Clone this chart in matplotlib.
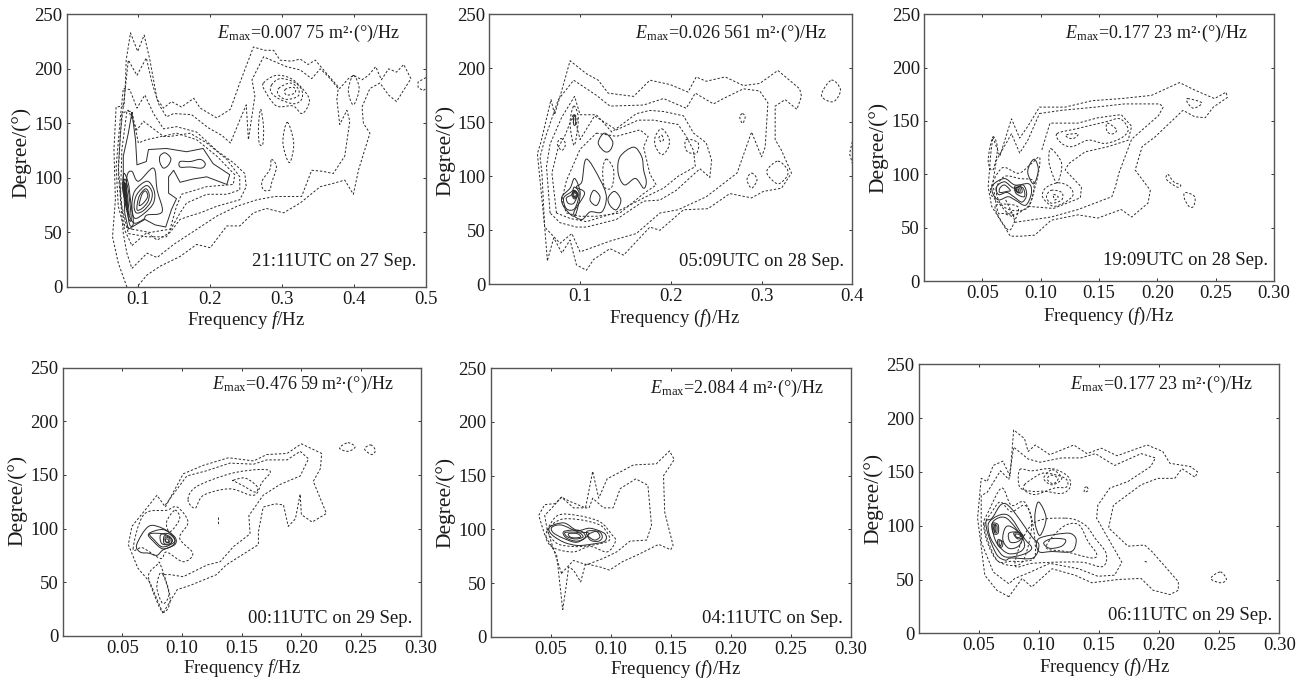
import numpy as np
import matplotlib
matplotlib.use('Agg')
import matplotlib.pyplot as plt
from matplotlib.path import Path
from matplotlib.patches import PathPatch

plt.rcParams['font.family'] = ['Liberation Serif', 'DejaVu Serif']
plt.rcParams['mathtext.fontset'] = 'custom'
plt.rcParams['mathtext.rm'] = 'Liberation Serif'
plt.rcParams['mathtext.it'] = 'Liberation Serif:italic'

W, H = 1305, 681
FS = 13.5

# -----------------------------------------------------------------------------
# Contours, (frequency Hz, degree) pairs
# OPEN lines stop at an edge, DASHED and SOLID lines are closed loops
# -----------------------------------------------------------------------------

P1_OPEN = [
    [(.084,0),(.072,22),(.064,46),(.068,80),(.066,126),(.069,165),(.080,166),(.082,187),(.083,208),(.089,233),
     (.099,216),(.108,231),(.116,208),(.126,172),(.135,164),(.146,170),(.160,165),(.177,173),(.186,164),(.209,155),
     (.228,163),(.241,187),(.260,220),(.276,217),(.288,217),(.297,208),(.313,207),(.325,209),(.336,204),(.346,208),
     (.364,194),(.380,182),(.392,191),(.399,194),(.411,190),(.420,194),(.430,202),(.438,190),(.448,200),(.459,197),
     (.469,204),(.479,191),(.459,170),(.448,176),(.436,187),(.422,182),(.411,165),(.413,150),(.422,141),(.406,107),
     (.399,85),(.387,98),(.371,95),(.353,92),(.325,77),(.302,68),(.278,72),(.260,68),(.241,56),(.223,56),
     (.200,36),(.181,39),(.158,28),(.130,19),(.112,11),(.098,0)],
    [(.500,192),(.489,188),(.489,183),(.496,180),(.500,182)],
]
P1_DASHED = [
    [(.091,17),(.112,31),(.126,27),(.149,39),(.179,52),(.209,65),(.237,74),(.265,80),(.290,83),(.327,83),
     (.341,107),(.357,106),(.371,104),(.387,120),(.394,152),(.390,162),(.380,149),(.376,172),(.378,182),(.364,193),
     (.353,200),(.341,191),(.325,199),(.306,202),(.274,211),(.258,190),(.262,175),(.253,135),(.250,167),(.241,153),
     (.228,132),(.216,139),(.197,146),(.174,158),(.149,159),(.139,156),(.128,168),(.119,187),(.111,210),(.098,194),
     (.086,208),(.075,141),(.072,104),(.076,74),(.079,49),(.084,31)],
    [(.091,38),(.112,50),(.126,43),(.144,50),(.158,62),(.171,65),(.186,68),(.209,74),(.241,80),(.250,92),
     (.248,104),(.232,114),(.209,125),(.181,142),(.153,147),(.135,145),(.121,159),(.109,176),(.098,164),(.088,181),
     (.079,182),(.075,156),(.069,110),(.072,74),(.081,52)],
    [(.086,49),(.112,46),(.139,46),(.158,68),(.167,77),(.195,85),(.223,85),(.241,89),(.241,101),(.223,117),
     (.195,132),(.172,141),(.144,138),(.135,138),(.107,152),(.098,144),(.086,162),(.077,159),(.072,110),(.077,74)],
    [(.091,53),(.116,50),(.144,53),(.153,74),(.160,85),(.195,92),(.232,94),(.234,103),(.209,120),(.181,135),
     (.153,141),(.111,135),(.100,132),(.091,161),(.084,161),(.077,126),(.075,80),(.081,56)],
    [(.270,163),(.274,147),(.273,131),(.268,132),(.267,147)],
    [(.307,151),(.316,132),(.310,114),(.301,132)],
    [(.399,194),(.407,182),(.399,167),(.392,180)],
    [(.285,117),(.292,110),(.285,95),(.283,89),(.274,89),(.272,97),(.283,108)],
    [(.274,187),(.292,194),(.315,190),(.336,175),(.336,166),(.327,159),(.315,166),(.292,166),(.276,180)],
    [(.285,185),(.297,191),(.316,188),(.327,181),(.327,172),(.316,168),(.297,172),(.285,178)],
    [(.295,182),(.311,187),(.322,182),(.322,175),(.306,172),(.295,176)],
    [(.304,181),(.316,183),(.318,178),(.306,176)],
]
P1_SOLID = [
    [(.091,160),(.096,135),(.098,112),(.111,115),(.114,126),(.139,127),(.167,124),(.190,127),(.204,113),(.227,103),
     (.223,94),(.195,101),(.176,99),(.158,96),(.149,107),(.142,101),(.142,86),(.153,81),(.146,71),(.138,55),
     (.123,57),(.109,62),(.086,53),(.081,68),(.079,104),(.079,120),(.086,141)],
    [(.130,120),(.137,123),(.145,118),(.142,112),(.135,109),(.130,114)],
    [(.158,115),(.172,115),(.186,117),(.193,113),(.188,109),(.172,110),(.158,110)],
    [(.084,101),(.091,106),(.100,97),(.121,109),(.126,89),(.133,69),(.112,66),(.107,62),(.093,59),(.084,74)],
    [(.095,88),(.112,97),(.122,88),(.121,77),(.109,68),(.095,63),(.091,74)],
    [(.098,85),(.111,93),(.119,87),(.117,78),(.107,70),(.097,68),(.094,75)],
    [(.101,83),(.110,90),(.115,85),(.113,78),(.105,72),(.098,71)],
    [(.105,85),(.110,88),(.113,83),(.107,77),(.101,75)],
    [(.080,104),(.086,95),(.089,80),(.093,59),(.088,57),(.083,75),(.078,90)],
    [(.081,99),(.085,92),(.088,78),(.090,62),(.087,62),(.082,76),(.079,90)],
    [(.082,95),(.084,88),(.086,76),(.087,66),(.085,70),(.081,80),(.080,90)],
    [(.082,92),(.083,85),(.085,75),(.084,72),(.082,80),(.081,88)],
    [(.081,96),(.083,88),(.084,78),(.083,76),(.081,84),(.080,92)],
    [(.081,94),(.082,88),(.083,80),(.082,80),(.081,86)],
]

P2_OPEN = [
    [(.400,132),(.397,121),(.400,112)],
]
P2_DASHED = [
    [(.064,22),(.061,53),(.053,121),(.057,132),(.068,171),(.072,157),(.080,180),(.089,207),(.107,195),(.120,189),
     (.131,177),(.159,174),(.177,189),(.199,185),(.219,178),(.228,192),(.239,188),(.260,192),(.280,184),(.298,186),
     (.318,198),(.342,181),(.344,174),(.339,162),(.326,171),(.315,165),(.315,134),(.322,124),(.333,103),(.322,89),
     (.302,86),(.289,80),(.265,84),(.241,70),(.214,69),(.188,50),(.177,53),(.148,27),(.133,33),(.115,23),
     (.107,13),(.096,18),(.089,41),(.080,29),(.071,43)],
    [(.093,189),(.118,175),(.133,165),(.170,166),(.192,172),(.217,163),(.227,177),(.247,167),(.258,172),(.280,181),
     (.298,179),(.307,168),(.304,127),(.300,118),(.289,141),(.273,103),(.239,81),(.208,69),(.188,66),(.162,47),
     (.133,40),(.100,30),(.091,47),(.078,38),(.061,53),(.058,103),(.056,118),(.061,134),(.076,171)],
    [(.067,66),(.063,109),(.067,130),(.080,155),(.094,174),(.100,157),(.118,157),(.135,141),(.162,158),(.177,161),
     (.192,160),(.214,156),(.225,140),(.239,131),(.245,115),(.243,99),(.232,107),(.206,87),(.188,78),(.170,77),
     (.140,60),(.107,53),(.096,53),(.078,57)],
    [(.074,66),(.069,103),(.076,127),(.083,137),(.093,158),(.100,134),(.116,156),(.140,143),(.164,152),(.181,152),
     (.208,148),(.217,137),(.225,124),(.227,109),(.208,100),(.192,89),(.170,80),(.138,66),(.107,58),(.089,61)],
    [(.118,140),(.140,137),(.166,143),(.175,137),(.170,127),(.177,102),(.184,92),(.170,84),(.144,66),(.118,63),
     (.100,63),(.085,66),(.080,78),(.085,96),(.100,125)],
    [(.190,144),(.198,135),(.197,126),(.190,120),(.183,128),(.183,137)],
    [(.190,138),(.192,134),(.189,132),(.187,136)],
    [(.279,158),(.282,155),(.279,149),(.276,155)],
    [(.289,103),(.295,97),(.289,89),(.284,97)],
    [(.318,114),(.328,107),(.328,100),(.318,93),(.307,101),(.307,107)],
    [(.377,189),(.387,180),(.379,169),(.366,175)],
    [(.217,134),(.230,131),(.228,121),(.217,124)],
    [(.093,165),(.098,155),(.096,137),(.093,129),(.089,149)],
    [(.094,157),(.097,152),(.094,148),(.092,152)],
    [(.079,135),(.084,130),(.080,124),(.075,130)],
    [(.129,116),(.137,106),(.135,90),(.127,90),(.125,106)],
]
P2_SOLID = [
    [(.093,155),(.095,155),(.095,148),(.093,148)],
    [(.127,140),(.136,132),(.133,124),(.127,123),(.120,131)],
    [(.159,127),(.168,118),(.170,106),(.173,95),(.170,89),(.161,98),(.149,92),(.142,103),(.144,118)],
    [(.107,116),(.122,97),(.129,81),(.124,67),(.111,67),(.102,60),(.093,66),(.105,84),(.096,90),(.102,95)],
    [(.115,87),(.122,81),(.118,73),(.111,78)],
    [(.138,86),(.145,78),(.140,69),(.133,73),(.131,80)],
    [(.094,98),(.100,86),(.098,73),(.093,63),(.082,72),(.080,81),(.089,89)],
    [(.094,90),(.099,84),(.094,70),(.085,70),(.082,80),(.091,86)],
    [(.093,87),(.097,83),(.093,75),(.087,75),(.085,80),(.091,83)],
    [(.094,87),(.098,83),(.094,79),(.091,83)],
    [(.094,86),(.097,83),(.094,80),(.092,83)],
    [(.094,85),(.096,83),(.094,81),(.093,83)],
]

P3_OPEN = [
    [(.101,123),(.108,148),(.132,148),(.149,153),(.169,156),(.178,145),(.175,132),(.158,126),(.138,121),(.124,110),
     (.121,104),(.135,88),(.134,78),(.111,68),(.089,70)],
    [(.070,76),(.074,67),(.077,60),(.069,63)],
]
P3_DASHED = [
    [(.059,135),(.065,117),(.075,152),(.082,134),(.089,145),(.099,163),(.121,163),(.144,169),(.169,171),(.195,174),
     (.219,186),(.232,179),(.249,171),(.259,177),(.260,172),(.248,163),(.241,153),(.232,154),(.222,160),(.198,135),
     (.187,126),(.181,104),(.194,85),(.192,73),(.178,60),(.169,67),(.149,59),(.132,62),(.109,57),(.095,43),
     (.083,42),(.074,42),(.058,70),(.055,88),(.057,117)],
    [(.099,157),(.118,160),(.147,163),(.172,166),(.202,166),(.205,163),(.201,155),(.178,133),(.167,101),(.164,88),
     (.161,79),(.132,67),(.109,60),(.078,55),(.076,64),(.064,63),(.062,70),(.059,92),(.062,113),(.075,138),
     (.082,120),(.089,132)],
    [(.114,138),(.132,143),(.155,149),(.168,152),(.175,142),(.169,134),(.155,129),(.141,132),(.127,126),(.118,129)],
    [(.122,137),(.132,138),(.129,134),(.124,134)],
    [(.157,148),(.165,142),(.162,138),(.157,140)],
    [(.226,171),(.238,167),(.231,162),(.226,167)],
    [(.059,135),(.063,124),(.059,104),(.055,113)],
    [(.109,124),(.118,110),(.114,92),(.108,107),(.107,117)],
    [(.115,92),(.125,88),(.127,79),(.112,70),(.102,78),(.104,87)],
    [(.109,85),(.118,83),(.118,76),(.109,73),(.105,79)],
    [(.111,81),(.115,79),(.112,76)],
    [(.209,100),(.214,93),(.220,90),(.217,88),(.208,95)],
    [(.224,83),(.232,79),(.231,70),(.227,70),(.223,78)],
    [(.057,85),(.067,106),(.081,101),(.092,110),(.099,116),(.098,101),(.092,76),(.087,68),(.075,62),(.064,73)],
    [(.062,86),(.069,98),(.082,96),(.094,93),(.090,70),(.077,66),(.066,72)],
    [(.061,70),(.072,48),(.078,57),(.080,70)],
]
P3_SOLID = [
    [(.095,114),(.098,104),(.094,91),(.089,101),(.091,110)],
    [(.059,90),(.069,96),(.078,90),(.090,91),(.092,82),(.087,71),(.078,76),(.072,79),(.064,76),(.059,82)],
    [(.062,88),(.069,93),(.077,87),(.085,90),(.088,81),(.084,74),(.077,79),(.071,83),(.064,81)],
    [(.065,87),(.069,90),(.074,85),(.071,84),(.065,83)],
    [(.078,89),(.085,87),(.086,79),(.079,82)],
    [(.078,87),(.082,87),(.082,83),(.079,84)],
    [(.079,86),(.081,86),(.081,84),(.079,85)],
    [(.079,87),(.083,88),(.084,83),(.080,83)],
]

P4_OPEN = [
    [(.130,111),(.130,103)],
    [(.086,122),(.104,149),(.121,154),(.140,161),(.160,160),(.171,164),(.188,164),(.199,172),(.206,165),(.199,149),
     (.182,141),(.168,131),(.156,112),(.157,95),(.143,83),(.132,69),(.121,66),(.101,55),(.090,57),(.084,57)],
]
P4_DASHED = [
    [(.084,21),(.073,50),(.063,63),(.055,85),(.058,102),(.066,113),(.079,131),(.086,120),(.101,151),(.118,159),
     (.139,166),(.160,163),(.171,169),(.188,170),(.200,179),(.217,170),(.216,156),(.210,144),(.221,114),(.209,106),
     (.200,113),(.199,132),(.195,109),(.189,102),(.185,122),(.178,123),(.168,120),(.164,97),(.164,85),(.137,66),
     (.129,57),(.107,47),(.096,43)],
    [(.105,127),(.111,119),(.118,131),(.140,137),(.160,131),(.167,143),(.174,153),(.164,155),(.140,151),(.112,139)],
    [(.143,145),(.153,147),(.163,139),(.161,134),(.151,140),(.144,144)],
    [(.239,180),(.245,176),(.239,172),(.232,175)],
    [(.258,178),(.262,173),(.259,169),(.253,174)],
    [(.094,117),(.098,109),(.090,97),(.087,106)],
    [(.059,81),(.068,113),(.087,117),(.096,120),(.105,106),(.098,91),(.109,77),(.101,69),(.087,78),(.082,72),(.067,82)],
    [(.082,66),(.090,35),(.084,22),(.075,43),(.072,57),(.079,66)],
    [(.084,57),(.089,39),(.084,30),(.079,44),(.081,57)],
]
P4_SOLID = [
    [(.062,85),(.072,102),(.084,100),(.094,92),(.094,85),(.084,80),(.079,75),(.072,77),(.065,78)],
    [(.072,95),(.084,99),(.093,92),(.093,85),(.084,81),(.076,88)],
    [(.073,95),(.084,95),(.091,91),(.090,85),(.083,83),(.077,89)],
    [(.082,94),(.089,95),(.094,89),(.090,85),(.083,86)],
    [(.085,93),(.089,92),(.092,89),(.090,86),(.085,86)],
    [(.086,92),(.089,91),(.090,89),(.089,87),(.086,88)],
    [(.086,90),(.088,90),(.089,88),(.087,87)],
]

P5_DASHED = [
    [(.060,25),(.063,48),(.065,65),(.069,62),(.075,51),(.079,68),(.091,65),(.099,62),(.110,70),(.122,76),
     (.140,86),(.150,81),(.152,85),(.145,116),(.144,150),(.153,165),(.149,173),(.138,161),(.119,160),(.097,147),
     (.090,129),(.085,154),(.079,120),(.066,126),(.059,130),(.054,124),(.045,123),(.040,113),(.045,95),(.055,76)],
    [(.059,59),(.069,71),(.080,67),(.094,73),(.105,79),(.116,89),(.130,90),(.134,104),(.131,141),(.121,147),
     (.108,138),(.102,120),(.094,120),(.085,129),(.082,120),(.069,120),(.059,130),(.051,120),(.045,113),(.047,100),
     (.054,76)],
    [(.047,99),(.056,113),(.072,113),(.091,107),(.101,95),(.104,89),(.097,79),(.083,84),(.069,79),(.054,82),(.047,89)],
    [(.048,99),(.058,109),(.074,109),(.091,104),(.098,95),(.098,89),(.083,85),(.069,84),(.055,87)],
]
P5_SOLID = [
    [(.049,102),(.061,106),(.072,99),(.083,101),(.095,96),(.095,89),(.083,86),(.072,85),(.061,88),(.051,95)],
    [(.051,102),(.059,104),(.072,98),(.082,96),(.072,88),(.060,92),(.052,97)],
    [(.080,98),(.090,98),(.093,93),(.090,89),(.083,90)],
    [(.081,95),(.088,98),(.091,93),(.087,90),(.083,92)],
    [(.061,98),(.074,99),(.079,93),(.072,89),(.063,92)],
    [(.062,97),(.073,97),(.077,93),(.071,91),(.064,93)],
    [(.065,96),(.072,96),(.075,93),(.070,92),(.066,93)],
]

P6_OPEN = [
    [(.188,67),(.190,66)],
]
P6_DASHED = [
    [(.075,34),(.065,40),(.055,54),(.049,107),(.052,144),(.057,141),(.062,156),(.070,160),(.076,146),(.079,189),
     (.088,181),(.091,169),(.097,175),(.109,166),(.129,175),(.140,167),(.152,172),(.165,165),(.190,175),(.203,169),
     (.209,158),(.226,155),(.232,150),(.230,145),(.219,153),(.213,144),(.199,144),(.185,138),(.162,119),(.158,98),
     (.174,81),(.188,82),(.194,76),(.205,62),(.216,48),(.216,40),(.209,36),(.195,40),(.185,51),(.166,50),
     (.144,47),(.130,54),(.111,60),(.094,43),(.086,51)],
    [(.075,143),(.079,173),(.091,162),(.101,159),(.119,163),(.135,163),(.147,167),(.163,156),(.185,167),(.197,163),
     (.193,155),(.174,141),(.159,135),(.149,119),(.148,107),(.169,66),(.163,54),(.149,53),(.133,60),(.109,65),
     (.091,56),(.080,51),(.075,46),(.062,57),(.052,85),(.052,128),(.057,131),(.068,151)],
    [(.084,152),(.094,151),(.111,153),(.124,146),(.126,136),(.119,130),(.105,132),(.094,132),(.084,136)],
    [(.088,138),(.095,144),(.105,149),(.122,144),(.123,136),(.113,135),(.097,129),(.088,133)],
    [(.111,152),(.119,144),(.111,138),(.104,144)],
    [(.110,147),(.116,144),(.112,139),(.107,143)],
    [(.140,136),(.141,133),(.138,131),(.138,135)],
    [(.251,57),(.256,50),(.251,47),(.243,51)],
    [(.122,107),(.138,101),(.147,88),(.156,74),(.153,62),(.136,66),(.111,66),(.094,65),(.080,64),(.094,101)],
    [(.120,99),(.133,101),(.141,85),(.148,74),(.144,70),(.122,76),(.106,80)],
    [(.054,101),(.058,113),(.069,135),(.077,119),(.088,122),(.094,101),(.088,70),(.080,63),(.066,67),(.058,82)],
    [(.055,101),(.061,113),(.068,122),(.077,113),(.088,119),(.094,107),(.097,73),(.088,67),(.077,67),(.066,67),(.058,85)],
]
P6_SOLID = [
    [(.056,104),(.061,107),(.069,120),(.077,116),(.094,90),(.100,82),(.095,70),(.077,70),(.072,68),(.065,73),(.058,91)],
    [(.100,122),(.106,107),(.101,91),(.097,101),(.097,113)],
    [(.100,88),(.122,93),(.129,91),(.131,85),(.127,76),(.111,76),(.100,76)],
    [(.104,84),(.111,88),(.122,87),(.119,81),(.109,79)],
    [(.059,104),(.074,110),(.088,88),(.094,79),(.086,73),(.072,71),(.065,79),(.059,91)],
    [(.062,104),(.073,107),(.087,87),(.086,77),(.075,74),(.066,82),(.062,93)],
    [(.072,98),(.077,99),(.086,90),(.083,81),(.075,79),(.070,87)],
    [(.075,93),(.083,94),(.087,90),(.082,85),(.076,85)],
    [(.079,93),(.084,93),(.087,89),(.082,88)],
    [(.080,92),(.083,92),(.085,90),(.082,89)],
    [(.061,102),(.066,101),(.066,93),(.062,93)],
    [(.062,101),(.065,100),(.065,94),(.063,94)],
    [(.063,100),(.064,100),(.064,95),(.063,95)],
    [(.066,87),(.070,85),(.069,80),(.066,82)],
    [(.067,86),(.069,85),(.068,81),(.067,83)],
]

X_TICKS_A = [0.1, 0.2, 0.3, 0.4, 0.5]
X_TICKS_B = [0.1, 0.2, 0.3, 0.4]
X_TICKS_C = [0.05, 0.10, 0.15, 0.20, 0.25, 0.30]
Y_TICKS = [0, 50, 100, 150, 200, 250]

EMAX_TEXT = ['0.007 75', '0.026 561', '0.177 23', '0.476 59', '2.084 4', '0.177 23']
TIME_TEXT = ['21:11UTC on 27 Sep.', '05:09UTC on 28 Sep.', '19:09UTC on 28 Sep.',
             '00:11UTC on 29 Sep.', '04:11UTC on Sep.', '06:11UTC on 29 Sep.']
XLABEL_TEXT = ['Frequency $\\mathit{f}$/Hz', 'Frequency ($\\mathit{f}$)/Hz', 'Frequency ($\\mathit{f}$)/Hz',
               'Frequency $\\mathit{f}$/Hz', 'Frequency ($\\mathit{f}$)/Hz', 'Frequency ($\\mathit{f}$)/Hz']

LINE_COLOR = '#2b2b2b'
DASH = (0, (2.4, 1.9))


def pos_x(px):
    return px / W


def pos_y(px):
    return 1 - px / H


def rounded_loop(line, xmax):
    # small loops look round in the original, so draw them as bezier curves
    # (x is scaled first, the two axes have very different units)
    pts = np.array(line, dtype=float)
    n = len(pts)
    verts = [pts[0]]
    codes = [Path.MOVETO]
    for i in range(n):
        p0, p1, p2, p3 = pts[i - 1], pts[i], pts[(i + 1) % n], pts[(i + 2) % n]
        verts += [p1 + (p2 - p0) / 6, p2 - (p3 - p1) / 6, p2]
        codes += [Path.CURVE4] * 3
    return Path(verts, codes)


def draw_loops(ax, loops, xmax, style):
    for line in loops:
        if len(line) <= 11:
            ax.add_patch(PathPatch(rounded_loop(line, xmax), fill=False, edgecolor=LINE_COLOR, lw=0.7, ls=style))
        else:
            loop = line + line[:1]
            ax.plot([p[0] for p in loop], [p[1] for p in loop], color=LINE_COLOR, lw=0.7, ls=style)


def draw_panel(box, open_lines, dashed, solid, xmax, xticks, idx, emax_at, time_at, xlabel_at, ylabel_at):
    left, right, top, bottom = box
    ax = fig.add_axes([pos_x(left), pos_y(bottom), (right - left) / W, (bottom - top) / H])

    for line in open_lines:
        ax.plot([p[0] for p in line], [p[1] for p in line], color=LINE_COLOR, lw=0.7, ls=DASH)
    draw_loops(ax, dashed, xmax, DASH)
    draw_loops(ax, solid, xmax, '-')

    ax.set_xlim(0, xmax)
    ax.set_ylim(0, 250)
    ax.set_xticks(xticks)
    ax.set_xticklabels(['%.1f' % t if xmax != 0.3 else '%.2f' % t for t in xticks])
    ax.set_yticks(Y_TICKS)
    ax.tick_params(direction='in', top=True, right=True, length=2.5, width=0.7, color='#333333',
                   labelsize=13.5, labelcolor='#1a1a1a', pad=3)
    for s in ax.spines.values():
        s.set_linewidth(1.0)
        s.set_color('#555555')

    fig.text(pos_x(emax_at[0]), pos_y(emax_at[1]),
             '$\\mathit{E}_{\\mathrm{max}}$=' + EMAX_TEXT[idx] + ' m\u00b2\u00b7(\u00b0)/Hz',
             fontsize=13, ha='right', va='baseline', color='#1a1a1a')
    fig.text(pos_x(time_at[0]), pos_y(time_at[1]), TIME_TEXT[idx],
             fontsize=FS, ha='right', va='baseline', color='#1a1a1a')
    fig.text(pos_x(xlabel_at[0]), pos_y(xlabel_at[1]), XLABEL_TEXT[idx],
             fontsize=13.6, ha='center', va='baseline', color='#1a1a1a')
    fig.text(pos_x(ylabel_at[0]), pos_y(ylabel_at[1]), 'Degree/(\u00b0)',
             fontsize=15.5, ha='center', va='center', rotation=90, color='#1a1a1a')
    return ax


fig = plt.figure(figsize=(W / 100, H / 100), dpi=100)

draw_panel((66.5, 426, 14.3, 287), P1_OPEN, P1_DASHED, P1_SOLID, 0.5, X_TICKS_A, 0,
           (400, 38), (416, 265.7), (246, 325), (21.7, 152))
draw_panel((489.3, 852.3, 14.3, 284.3), P2_OPEN, P2_DASHED, P2_SOLID, 0.4, X_TICKS_B, 1,
           (826.7, 38), (844, 265.7), (674.5, 322.7), (445, 150))
draw_panel((924, 1274, 14.3, 281), P3_OPEN, P3_DASHED, P3_SOLID, 0.3, X_TICKS_C, 2,
           (1248, 38), (1267.7, 265), (1108.7, 320.7), (878, 147))
draw_panel((62.7, 420.7, 367.7, 635.7), P4_OPEN, P4_DASHED, P4_SOLID, 0.3, X_TICKS_C, 3,
           (394, 389), (412.7, 623.3), (241.8, 673), (17, 500.8))
draw_panel((490.7, 850.7, 368.3, 636.7), [], P5_DASHED, P5_SOLID, 0.3, X_TICKS_C, 4,
           (824, 393), (842.7, 623), (675.8, 674), (445, 502.5))
draw_panel((918.7, 1279.3, 364.3, 633.3), P6_OPEN, P6_DASHED, P6_SOLID, 0.3, X_TICKS_C, 5,
           (1253, 389), (1272, 620), (1104.5, 671.7), (873, 498))

fig.savefig('out.png', dpi=100)
